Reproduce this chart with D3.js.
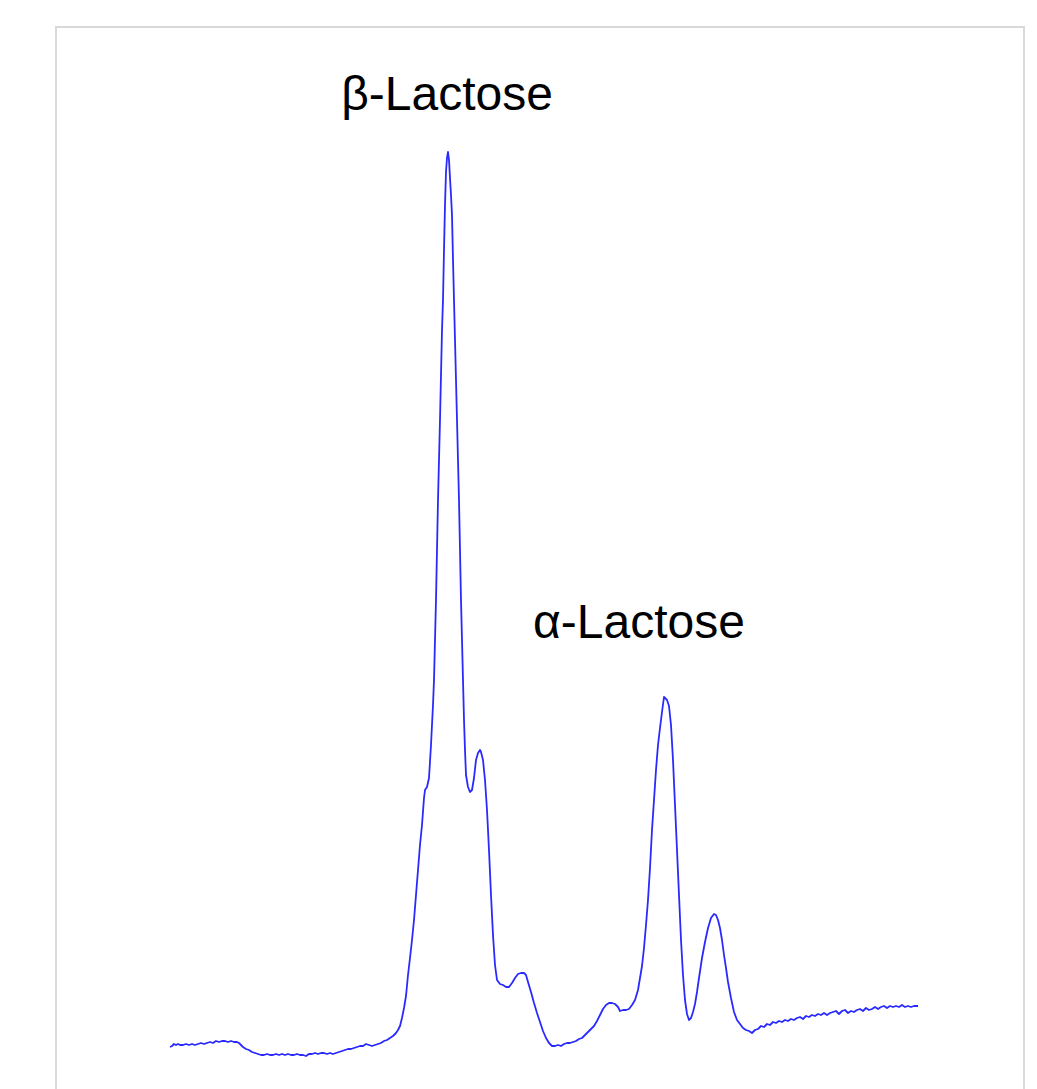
<!DOCTYPE html>
<html>
<head>
<meta charset="utf-8">
<script src="https://cdn.jsdelivr.net/npm/d3@7"></script>
<style>
  html, body { margin: 0; padding: 0; background: #fff; }
  svg { display: block; }
</style>
</head>
<body>
<script>
// Retention axis (arbitrary units) and detector intensity (arbitrary units)
const time = [
  0,2,4,6,8,10,13,16,19,22,
  25,28,31,34,37,40,43,46,49,52,
  55,58,61,64,67,69,71,73,76,79,
  82,85,88,91,94,97,100,103,106,109,
  112,115,118,121,124,127,130,133,136,139,
  142,145,148,151,154,157,160,163,166,169,
  172,175,178,181,184,187,190,193,196,199,
  202,205,208,211,214,217,220,223,226,228,
  230,232,234,236,238,240,242,244,246,248,
  250,252,254,255,257,259,261,263,264,266,
  268,270,272,273,274,275,276,277,278,279,
  280,281,282,283,284,285,287,289,291,293,
  294,295,296,298,300,302,304,306,308,310,
  311,313,315,317,319,321,323,325,327,330,
  333,336,339,342,345,348,351,354,356,358,
  361,364,367,370,373,376,379,382,385,388,
  391,394,397,400,403,406,409,412,415,418,
  421,424,427,430,433,436,439,442,445,448,
  450,453,456,459,462,465,468,470,472,474,
  476,478,480,482,484,486,488,490,492,494,
  495,497,499,501,503,505,507,509,511,513,
  515,517,519,521,523,525,527,529,532,535,
  538,541,544,546,548,550,552,554,556,558,
  561,564,567,570,573,576,579,582,585,588,
  591,594,597,600,603,606,609,612,615,618,
  621,624,627,630,633,636,639,642,645,648,
  651,654,657,660,663,666,669,672,675,678,
  681,684,687,690,693,696,699,702,705,708,
  711,714,717,720,723,726,729,732,735,738,
  741,744,748
];
const intensity = [
  13,14,16,15,16,15,15,16,15,16,
  15,16,17,16,17,18,17,19,18,19,
  19,18,19,18,18,17,15,13,11,10,
  8,7,6,5,5,6,5,5,6,5,
  6,5,6,5,5,6,5,5,4,6,
  6,7,6,7,7,6,7,6,7,8,
  9,10,11,11,12,13,14,14,16,15,
  14,15,16,17,19,20,22,24,27,30,
  34,42,52,64,85,102,120,140,165,190,
  215,235,262,270,273,282,315,355,380,460,
  560,640,730,760,810,855,888,902,908,900,
  882,865,845,800,760,720,640,560,460,380,
  340,310,285,273,268,270,282,300,307,310,
  308,300,280,250,210,165,125,95,80,76,
  75,73,73,77,82,86,87,87,85,78,
  68,57,47,38,29,22,17,14,14,15,
  14,16,17,17,18,19,21,22,25,28,
  31,34,39,45,51,55,57,57,56,53,
  49,50,50,51,55,60,70,82,94,112,
  135,160,192,230,260,290,315,332,348,363,
  362,360,354,335,300,255,210,165,120,85,
  60,46,40,42,48,56,68,82,102,118,
  132,142,146,145,140,132,120,105,92,78,
  62,48,40,36,32,30,29,27,30,31,
  34,33,36,35,38,37,39,38,40,39,
  41,40,42,43,41,44,43,45,44,46,
  45,47,45,47,48,49,46,49,50,47,
  49,48,50,51,49,52,50,51,53,51,
  53,54,52,54,53,54,53,55,53,54,
  53,54,54
];
// Peak labels: text, the time at which each is centred, and its intensity level
const peakLabels = ["β-Lactose", "α-Lactose"];
const labelTime = [277, 469];
const labelLevel = [950, 422];

const W = 1037, H = 1089;
const svg = d3.select("body").append("svg").attr("width", W).attr("height", H);

const x = d3.scaleLinear().domain([0, 748]).range([170, 918]);
const y = d3.scaleLinear().domain([0, 1000]).range([1060, 60]);

// frame
svg.append("rect")
  .attr("x", 56).attr("y", 27)
  .attr("width", 968).attr("height", 1120)
  .attr("fill", "none")
  .attr("stroke", "#d9d9d9")
  .attr("stroke-width", 2);

const data = time.map((t, i) => ({ t, v: intensity[i] }));

svg.append("path")
  .datum(data)
  .attr("fill", "none")
  .attr("stroke", "#2a2aff")
  .attr("stroke-width", 1.8)
  .attr("stroke-linejoin", "round")
  .attr("d", d3.line().x(d => x(d.t)).y(d => y(d.v)));

svg.selectAll("text.lbl")
  .data(peakLabels)
  .join("text")
  .attr("class", "lbl")
  .attr("x", (d, i) => x(labelTime[i]))
  .attr("y", (d, i) => y(labelLevel[i]))
  .attr("text-anchor", "middle")
  .attr("font-family", "'Liberation Sans', Arial, sans-serif")
  .attr("font-size", 48)
  .attr("fill", "#000")
  .text(d => d);
</script>
</body>
</html>
